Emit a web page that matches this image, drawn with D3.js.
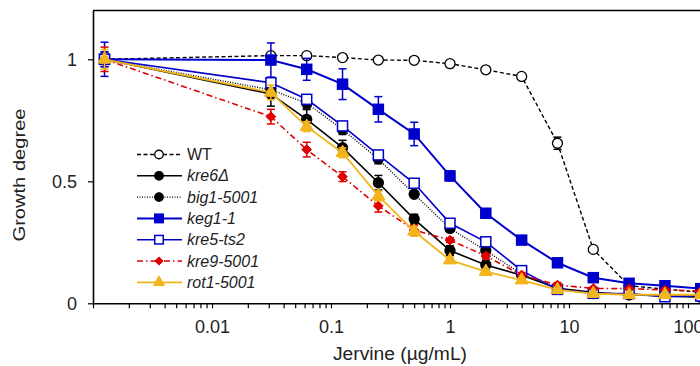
<!DOCTYPE html>
<html>
<head>
<meta charset="utf-8">
<script src="https://cdn.jsdelivr.net/npm/d3@7"></script>
<style>
  body { margin: 0; background: #fff; }
  svg { display: block; font-family: "Liberation Sans", Arial, sans-serif; }
</style>
</head>
<body>
<div id="chart"></div>
<script>
// Jervine concentrations (ug/mL); the first point stands for no drug.
var doses = [0.00125, 0.03125, 0.0625, 0.125, 0.25, 0.5, 1, 2, 4, 8, 16, 32, 64, 128];

// Growth degree for each strain, with error bars.
var wt      = [1.0, 1.015, 1.015, 1.007, 0.997, 0.996, 0.982, 0.957, 0.930, 0.656, 0.221, 0.072, 0.058, 0.045];
var wtErr   = [0.01, 0.01, 0.005, 0.005, 0.005, 0.005, 0.01, 0.005, 0.01, 0.025, 0.01, 0.005, 0.005, 0.005];
var kre6    = [1.0, 0.858, 0.754, 0.638, 0.494, 0.345, 0.216, 0.157, 0.115, 0.062, 0.045, 0.035, 0.030, 0.025];
var kre6Err = [0.03, 0.05, 0.04, 0.03, 0.03, 0.02, 0.02, 0.02, 0.01, 0.01, 0.01, 0.005, 0.005, 0.005];
var big1    = [1.0, 0.875, 0.820, 0.712, 0.592, 0.447, 0.307, 0.216, 0.120, 0.060, 0.040, 0.035, 0.030, 0.030];
var big1Err = [0.02, 0.02, 0.02, 0.02, 0.02, 0.01, 0.01, 0.01, 0.01, 0.005, 0.005, 0.005, 0.005, 0.005];
var keg1    = [1.0, 0.997, 0.959, 0.898, 0.795, 0.694, 0.522, 0.369, 0.259, 0.166, 0.105, 0.082, 0.072, 0.060];
var keg1Err = [0.07, 0.07, 0.045, 0.063, 0.052, 0.048, 0.02, 0.01, 0.01, 0.01, 0.01, 0.01, 0.01, 0.01];
var kre5    = [1.0, 0.904, 0.836, 0.727, 0.608, 0.492, 0.328, 0.252, 0.134, 0.057, 0.041, 0.040, 0.027, 0.030];
var kre5Err = [0.03, 0.01, 0.01, 0.01, 0.01, 0.01, 0.01, 0.01, 0.01, 0.005, 0.005, 0.005, 0.005, 0.005];
var kre9    = [1.0, 0.765, 0.630, 0.519, 0.399, 0.300, 0.259, 0.194, 0.116, 0.075, 0.061, 0.060, 0.055, 0.050];
var kre9Err = [0.05, 0.03, 0.03, 0.02, 0.025, 0.02, 0.01, 0.01, 0.01, 0.01, 0.005, 0.005, 0.005, 0.005];
var rot1    = [1.0, 0.864, 0.724, 0.617, 0.440, 0.295, 0.177, 0.130, 0.095, 0.055, 0.040, 0.035, 0.035, 0.035];
var rot1Err = [0.04, 0.03, 0.02, 0.02, 0.02, 0.02, 0.01, 0.01, 0.01, 0.005, 0.005, 0.005, 0.005, 0.005];

// Axis labels.
var xTickLabels = [0.01, 0.1, 1, 10, 100];
var yTicks = [0, 0.5, 1];
var xTitle = 'Jervine (\u00b5g/mL)';
var yTitle = 'Growth degree';

var width = 700, height = 366;
var svg = d3.select('#chart').append('svg')
    .attr('width', width)
    .attr('height', height);

// Log scale for dose; the picture is cut at the right, before 1000.
var x = d3.scaleLog().domain([0.001, 1000]).range([93, 807]);
var y = d3.scaleLinear().domain([0, 1.2]).range([303.3, 10.5]);

// Series styles, drawn in legend order.
var series = [
    {name: 'WT', italic: false, values: wt, err: wtErr, color: '#000', dash: '4,2.5', width: 1.4, shape: 'circle', fill: '#fff'},
    {name: 'kre6\u0394', italic: true, values: kre6, err: kre6Err, color: '#000', dash: null, width: 1.6, shape: 'circle', fill: '#000'},
    {name: 'big1-5001', italic: true, values: big1, err: big1Err, color: '#000', dash: '1,1.5', width: 1.4, shape: 'circle', fill: '#000'},
    {name: 'keg1-1', italic: true, values: keg1, err: keg1Err, color: '#0000cc', dash: null, width: 2, shape: 'square', fill: '#0000cc'},
    {name: 'kre5-ts2', italic: true, values: kre5, err: kre5Err, color: '#0000cc', dash: null, width: 1.6, shape: 'square', fill: '#fff'},
    {name: 'kre9-5001', italic: true, values: kre9, err: kre9Err, color: '#e00000', dash: '6,3,1.5,3', width: 1.6, shape: 'diamond', fill: '#e00000'},
    {name: 'rot1-5001', italic: true, values: rot1, err: rot1Err, color: '#f2b51c', dash: null, width: 1.8, shape: 'triangle', fill: '#f2b51c'}
];

// Marker drawing helper; k shrinks the marker (legend uses smaller ones).
function addMarker(g, s, cx, cy, k) {
    k = k || 1;
    if (s.shape === 'circle') {
        g.append('circle').attr('cx', cx).attr('cy', cy).attr('r', 5 * k)
            .attr('fill', s.fill).attr('stroke', s.color).attr('stroke-width', 1.3);
    } else if (s.shape === 'square') {
        g.append('rect').attr('x', cx - 5 * k).attr('y', cy - 5 * k)
            .attr('width', 10 * k).attr('height', 10 * k)
            .attr('fill', s.fill).attr('stroke', s.color).attr('stroke-width', 1.5);
    } else if (s.shape === 'diamond') {
        g.append('path')
            .attr('d', d3.symbol().type(d3.symbolDiamond2).size(60 * k * k)())
            .attr('transform', 'translate(' + cx + ',' + cy + ')')
            .attr('fill', s.fill).attr('stroke', s.color).attr('stroke-width', 1);
    } else {
        g.append('path')
            .attr('d', d3.symbol().type(d3.symbolTriangle).size(75 * k * k)())
            .attr('transform', 'translate(' + cx + ',' + cy + ')')
            .attr('fill', s.fill).attr('stroke', s.color).attr('stroke-width', 1);
    }
}

// Axes.
var xTickValues = [];
for (var p = -3; p <= 2; p++) {
    for (var k = 1; k <= 9; k++) xTickValues.push(k * Math.pow(10, p));
}
xTickValues.push(1000);
var xAxis = d3.axisBottom(x)
    .tickValues(xTickValues)
    .tickSize(5)
    .tickSizeOuter(0)
    .tickFormat(function(d) {
        var hit = xTickLabels.find(function(v) { return Math.abs(v - d) / v < 1e-6; });
        return hit === undefined ? '' : String(hit);
    });
var yAxis = d3.axisLeft(y).tickValues(yTicks).tickSize(5).tickSizeOuter(0)
    .tickFormat(function(d) { return String(d); });

var gx = svg.append('g')
    .attr('transform', 'translate(0,' + y(0) + ')')
    .call(xAxis);
gx.select('.domain').attr('stroke-width', 1.6);
gx.selectAll('.tick line').attr('stroke-width', 1.2);
gx.selectAll('.tick text').attr('font-size', 18).attr('fill', '#222')
    .attr('y', 8).attr('dy', '1.22em');

var gy = svg.append('g')
    .attr('transform', 'translate(' + x(0.001) + ',0)')
    .call(yAxis);
gy.select('.domain').attr('stroke-width', 1.6);
gy.selectAll('.tick line').attr('stroke-width', 1.2);
gy.selectAll('.tick text').attr('font-size', 18).attr('fill', '#222').attr('x', -16);

// Top frame line.
svg.append('line')
    .attr('x1', x(0.001)).attr('x2', x(1000))
    .attr('y1', y(1.2)).attr('y2', y(1.2))
    .attr('stroke', '#000').attr('stroke-width', 1.6);

// Titles.
svg.append('text')
    .attr('x', 400).attr('y', 360)
    .attr('text-anchor', 'middle')
    .attr('font-size', 18).attr('fill', '#222')
    .attr('textLength', 134).attr('lengthAdjust', 'spacingAndGlyphs')
    .text(xTitle);
svg.append('text')
    .attr('transform', 'translate(25,175) rotate(-90)')
    .attr('text-anchor', 'middle')
    .attr('font-size', 17).attr('fill', '#222')
    .attr('textLength', 133).attr('lengthAdjust', 'spacingAndGlyphs')
    .text(yTitle);

// Series: error bars, lines, markers.
var line = d3.line()
    .x(function(d) { return x(d.x); })
    .y(function(d) { return y(d.y); });

series.forEach(function(s) {
    var pts = doses.map(function(d, i) { return {x: d, y: s.values[i], e: s.err[i]}; });
    var g = svg.append('g');
    var eb = g.append('g').attr('stroke', s.color).attr('stroke-width', 1.5);
    pts.forEach(function(pt) {
        var cx = x(pt.x), y1 = y(pt.y + pt.e), y2 = y(pt.y - pt.e);
        eb.append('line').attr('x1', cx).attr('x2', cx).attr('y1', y1).attr('y2', y2);
        eb.append('line').attr('x1', cx - 4).attr('x2', cx + 4).attr('y1', y1).attr('y2', y1);
        eb.append('line').attr('x1', cx - 4).attr('x2', cx + 4).attr('y1', y2).attr('y2', y2);
    });
    g.append('path')
        .attr('d', line(pts))
        .attr('fill', 'none')
        .attr('stroke', s.color)
        .attr('stroke-width', s.width)
        .attr('stroke-dasharray', s.dash);
    pts.forEach(function(pt) { addMarker(g, s, x(pt.x), y(pt.y)); });
});

// Legend.
var legend = svg.append('g');
series.forEach(function(s, i) {
    var ly = 154.5 + i * 21.3;
    legend.append('line')
        .attr('x1', 137).attr('x2', 182).attr('y1', ly).attr('y2', ly)
        .attr('stroke', s.color).attr('stroke-width', s.width)
        .attr('stroke-dasharray', s.dash);
    addMarker(legend, s, 159, ly, 0.85);
    legend.append('text')
        .attr('x', 187).attr('y', ly + 5.5)
        .attr('font-size', 16).attr('fill', '#222')
        .attr('font-style', s.italic ? 'italic' : 'normal')
        .text(s.name);
});
</script>
</body>
</html>
